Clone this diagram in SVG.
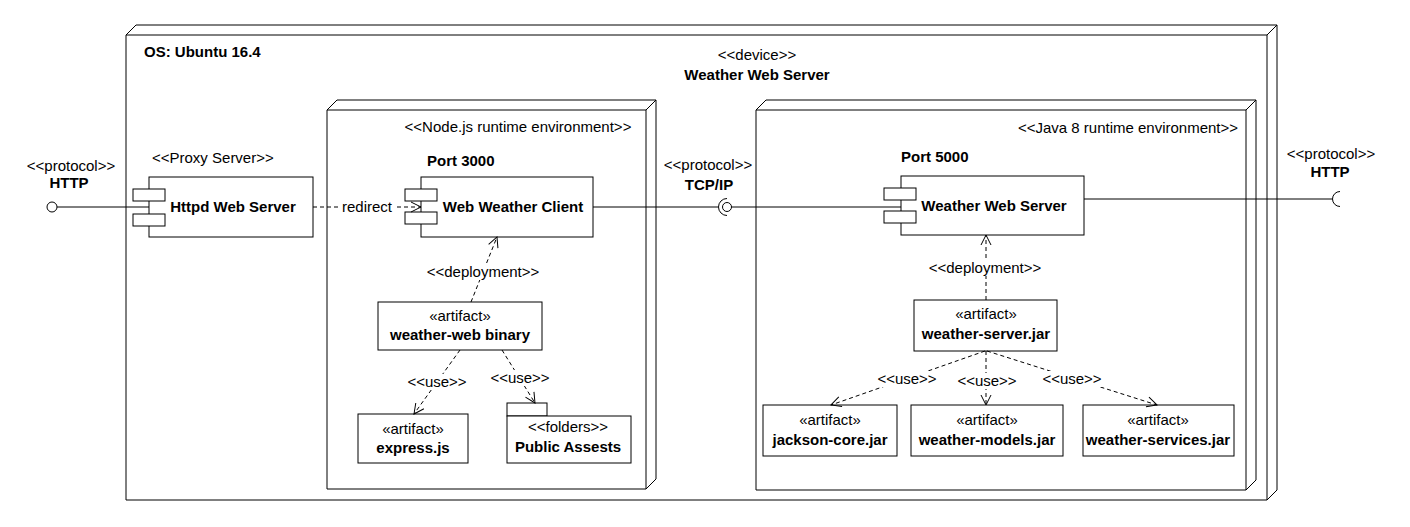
<svg xmlns="http://www.w3.org/2000/svg" width="1410" height="527" viewBox="0 0 1410 527">
<defs>
<style>
.s{fill:#fff;stroke:#000;stroke-width:1}
.n{fill:none;stroke:#000;stroke-width:1}
.d{fill:none;stroke:#000;stroke-width:1;stroke-dasharray:4 3}
.t{font-family:"Liberation Sans",Arial,sans-serif;font-size:15px;fill:#000}
.b{font-weight:bold}
.m{text-anchor:middle}
.bg{fill:#fff;stroke:none}
</style>
<marker id="open" viewBox="0 0 12 12" refX="11" refY="6" markerWidth="12" markerHeight="12" markerUnits="userSpaceOnUse" orient="auto">
<path d="M1,1 L11,6 L1,11" fill="none" stroke="#000" stroke-width="1"/>
</marker>
</defs>
<rect width="1410" height="527" fill="#fff"/>

<g id="device">
<path class="s" d="M126,35 L136,25 L1277,25 L1277,490 L1267,500 L126,500 Z"/>
<path class="n" d="M126,35 H1267 V500 M1267,35 L1277,25"/>
<text class="t b" x="144" y="57">OS: Ubuntu 16.4</text>
<text class="t m" x="757" y="60">&lt;&lt;device&gt;&gt;</text>
<text class="t b m" x="757" y="80">Weather Web Server</text>
</g>

<g id="nodejs">
<path class="s" d="M327,110 L337,100 L656,100 L656,479 L646,489 L327,489 Z"/>
<path class="n" d="M327,110 H646 V489 M646,110 L656,100"/>
<text class="t m" x="518" y="132">&lt;&lt;Node.js runtime environment&gt;&gt;</text>
</g>

<g id="java">
<path class="s" d="M756,110 L766,100 L1256,100 L1256,480 L1246,490 L756,490 Z"/>
<path class="n" d="M756,110 H1246 V490 M1246,110 L1256,100"/>
<text class="t m" x="1128" y="133">&lt;&lt;Java 8 runtime environment&gt;&gt;</text>
</g>

<g id="httpd">
<text class="t" x="152" y="163">&lt;&lt;Proxy Server&gt;&gt;</text>
<rect class="s" x="149" y="177" width="164" height="60"/>
<rect class="s" x="133" y="189" width="32" height="12"/>
<rect class="s" x="133" y="214" width="32" height="12"/>
<text class="t b m" x="233" y="212">Httpd Web Server</text>
</g>

<g id="webclient">
<text class="t b" x="427" y="166">Port 3000</text>
<rect class="s" x="421" y="177" width="172" height="60"/>
<rect class="s" x="405" y="189" width="32" height="12"/>
<rect class="s" x="405" y="212" width="32" height="12"/>
<text class="t b m" x="513" y="212">Web Weather Client</text>
</g>

<g id="webserver">
<text class="t b" x="901" y="162">Port 5000</text>
<rect class="s" x="901" y="176" width="183" height="59"/>
<rect class="s" x="884" y="188" width="32" height="12"/>
<rect class="s" x="884" y="211" width="32" height="12"/>
<text class="t b m" x="994" y="211">Weather Web Server</text>
</g>

<g id="webbinary">
<rect class="s" x="378" y="302" width="164" height="48"/>
<text class="t m" x="460" y="321">«artifact»</text>
<text class="t b m" x="460" y="340">weather-web binary</text>
</g>

<g id="expressjs">
<rect class="s" x="358" y="414" width="110" height="49"/>
<text class="t m" x="413" y="434">«artifact»</text>
<text class="t b m" x="413" y="453">express.js</text>
</g>

<g id="publicassets">
<rect class="s" x="507" y="403" width="40" height="13"/>
<rect class="s" x="507" y="416" width="124" height="47"/>
<text class="t m" x="568" y="432">&lt;&lt;folders&gt;&gt;</text>
<text class="t b m" x="568" y="452">Public Assests</text>
</g>

<g id="serverjar">
<rect class="s" x="914" y="300" width="143" height="51"/>
<text class="t m" x="986" y="319">«artifact»</text>
<text class="t b m" x="986" y="339">weather-server.jar</text>
</g>

<g id="jackson">
<rect class="s" x="763" y="405" width="134" height="51"/>
<text class="t m" x="830" y="425">«artifact»</text>
<text class="t b m" x="830" y="445">jackson-core.jar</text>
</g>

<g id="models">
<rect class="s" x="911" y="405" width="152" height="51"/>
<text class="t m" x="987" y="425">«artifact»</text>
<text class="t b m" x="987" y="445">weather-models.jar</text>
</g>

<g id="services">
<rect class="s" x="1083" y="405" width="151" height="51"/>
<text class="t m" x="1158" y="425">«artifact»</text>
<text class="t b m" x="1158" y="445">weather-services.jar</text>
</g>

<g id="interfaces">
<text class="t m" x="71" y="171">&lt;&lt;protocol&gt;&gt;</text>
<text class="t b m" x="69" y="188">HTTP</text>
<text class="t m" x="708" y="170">&lt;&lt;protocol&gt;&gt;</text>
<text class="t b m" x="709" y="190">TCP/IP</text>
<text class="t m" x="1331" y="159">&lt;&lt;protocol&gt;&gt;</text>
<text class="t b m" x="1330" y="177">HTTP</text>
</g>

<g id="connectors">
<line class="n" x1="57" y1="207" x2="149" y2="207"/>
<circle class="s" cx="52" cy="207" r="5"/>

<line class="d" x1="313" y1="207" x2="421" y2="207" marker-end="url(#open)"/>
<rect class="bg" x="340" y="199" width="54" height="16"/>
<text class="t m" x="367" y="212">redirect</text>

<line class="n" x1="593" y1="207" x2="718" y2="207"/>
<path class="n" d="M727,198.5 A8.5,8.5 0 0,0 727,215.5"/>
<circle class="s" cx="727" cy="207" r="4.5"/>
<line class="n" x1="731.5" y1="207" x2="901" y2="207"/>

<line class="n" x1="1084" y1="199" x2="1332" y2="199"/>
<path class="n" d="M1340,191.5 A7.5,7.5 0 0,0 1340,206.5"/>

<line class="d" x1="471" y1="302" x2="497" y2="237" marker-end="url(#open)"/>
<rect class="bg" x="424" y="264" width="118" height="16"/>
<text class="t m" x="483" y="277">&lt;&lt;deployment&gt;&gt;</text>

<line class="d" x1="986" y1="300" x2="986" y2="235" marker-end="url(#open)"/>
<rect class="bg" x="926" y="260" width="118" height="16"/>
<text class="t m" x="985" y="273">&lt;&lt;deployment&gt;&gt;</text>

<line class="d" x1="460" y1="350" x2="414" y2="414" marker-end="url(#open)"/>
<rect class="bg" x="406" y="374" width="62" height="16"/>
<text class="t m" x="437" y="387">&lt;&lt;use&gt;&gt;</text>

<line class="d" x1="502" y1="350" x2="535" y2="403" marker-end="url(#open)"/>
<rect class="bg" x="489" y="370" width="62" height="16"/>
<text class="t m" x="520" y="383">&lt;&lt;use&gt;&gt;</text>

<line class="d" x1="985" y1="351" x2="831" y2="405" marker-end="url(#open)"/>
<rect class="bg" x="876" y="371" width="62" height="16"/>
<text class="t m" x="907" y="384">&lt;&lt;use&gt;&gt;</text>

<line class="d" x1="986" y1="351" x2="986" y2="405" marker-end="url(#open)"/>
<rect class="bg" x="956" y="373" width="62" height="16"/>
<text class="t m" x="987" y="386">&lt;&lt;use&gt;&gt;</text>

<line class="d" x1="987" y1="351" x2="1157" y2="405" marker-end="url(#open)"/>
<rect class="bg" x="1041" y="371" width="62" height="16"/>
<text class="t m" x="1072" y="384">&lt;&lt;use&gt;&gt;</text>
</g>
</svg>
